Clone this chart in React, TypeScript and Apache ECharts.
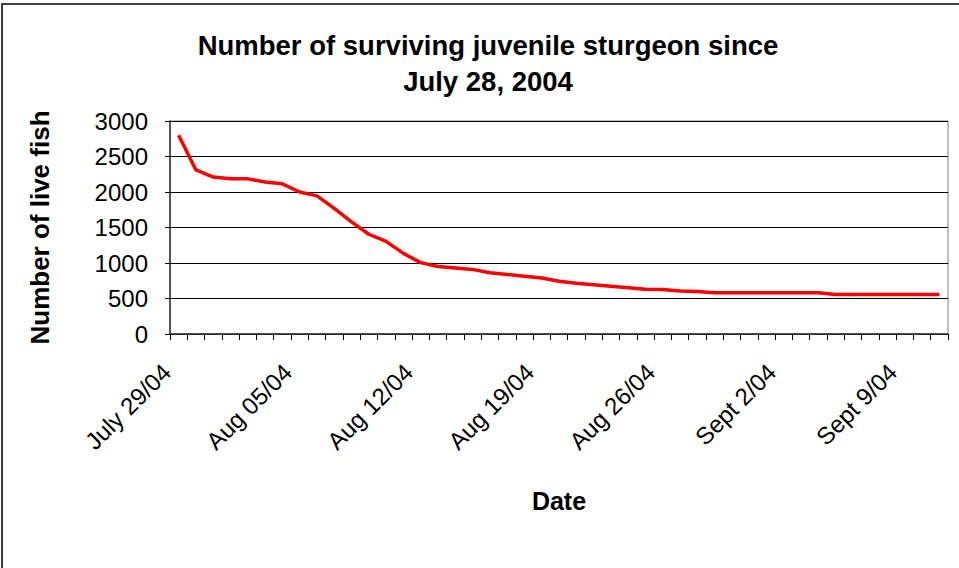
import React, { useEffect, useRef } from "react";
import * as echarts from "echarts";

const categories: string[] = [
  "July 29/04", "July 30/04", "July 31/04", "Aug 01/04", "Aug 02/04", "Aug 03/04", "Aug 04/04",
  "Aug 05/04", "Aug 06/04", "Aug 07/04", "Aug 08/04", "Aug 09/04", "Aug 10/04", "Aug 11/04",
  "Aug 12/04", "Aug 13/04", "Aug 14/04", "Aug 15/04", "Aug 16/04", "Aug 17/04", "Aug 18/04",
  "Aug 19/04", "Aug 20/04", "Aug 21/04", "Aug 22/04", "Aug 23/04", "Aug 24/04", "Aug 25/04",
  "Aug 26/04", "Aug 27/04", "Aug 28/04", "Aug 29/04", "Aug 30/04", "Aug 31/04", "Sept 1/04",
  "Sept 2/04", "Sept 3/04", "Sept 4/04", "Sept 5/04", "Sept 6/04", "Sept 7/04", "Sept 8/04",
  "Sept 9/04", "Sept 10/04", "Sept 11/04",
];

const liveFish: number[] = [
  2800, 2310, 2210, 2185, 2185, 2140, 2115, 2000, 1945, 1770,
  1580, 1405, 1305, 1135, 1005, 950, 930, 910, 862, 838,
  815, 790, 742, 716, 694, 671, 652, 630, 626, 604,
  600, 580, 580, 580, 580, 580, 580, 580, 555, 555,
  555, 555, 555, 555, 555,
];

const titleLines: string[] = ["Number of surviving juvenile sturgeon since", "July 28, 2004"];
const yAxisName = "Number of live fish";
const xAxisName = "Date";

const FONT = "'Liberation Sans', Arial, Helvetica, sans-serif";

export default function App() {
  const ref = useRef<HTMLDivElement>(null);
  useEffect(() => {
    if (!ref.current) return;
    const chart = echarts.init(ref.current, undefined, { renderer: "svg" });
    chart.setOption({
      animation: false,
      backgroundColor: "#ffffff",
      title: {
        text: titleLines.join("\n"),
        left: 483,
        top: 22,
        textAlign: "center",
        textStyle: {
          fontFamily: FONT,
          fontSize: 27.5,
          fontWeight: "bold",
          color: "#000",
          lineHeight: 36,
        },
      },
      graphic: [
        {
          type: "rect",
          shape: { x: 2, y: 4, width: 1000, height: 620 },
          style: { fill: "none", stroke: "#000", lineWidth: 1.5 },
          silent: true,
        },
      ],
      grid: {
        left: 170,
        top: 121,
        width: 778,
        height: 213,
        show: true,
        borderColor: "#808080",
        borderWidth: 1,
        backgroundColor: "#fff",
      },
      xAxis: {
        type: "category",
        data: categories,
        boundaryGap: true,
        name: xAxisName,
        nameLocation: "middle",
        nameGap: 154,
        nameTextStyle: { fontFamily: FONT, fontSize: 25, fontWeight: "bold", color: "#000" },
        axisLine: { lineStyle: { color: "#333", width: 1.5 } },
        axisTick: { show: true, interval: 0, length: 6, lineStyle: { color: "#000" } },
        axisLabel: {
          interval: 6,
          rotate: 45,
          margin: 22,
          padding: [0, 17, 0, 0],
          fontFamily: FONT,
          fontSize: 24,
          color: "#000",
        },
        splitLine: { show: false },
      },
      yAxis: {
        type: "value",
        min: 0,
        max: 3000,
        interval: 500,
        name: yAxisName,
        nameLocation: "middle",
        nameRotate: 90,
        nameGap: 117,
        nameTextStyle: {
          fontFamily: FONT,
          fontSize: 26,
          fontWeight: "bold",
          color: "#000",
        },
        axisLine: { show: true, lineStyle: { color: "#333", width: 1.5 } },
        axisTick: { show: true, length: 5, lineStyle: { color: "#000" } },
        axisLabel: {
          margin: 22,
          fontFamily: FONT,
          fontSize: 24,
          color: "#000",
          formatter: (v: number) => String(v),
        },
        splitLine: { show: true, lineStyle: { color: "#000", width: 1 } },
      },
      series: [
        {
          type: "line",
          data: liveFish,
          showSymbol: false,
          symbol: "none",
          lineStyle: { color: "#ff0000", width: 3.5 },
          itemStyle: { color: "#ff0000" },
        },
      ],
    });
    return () => chart.dispose();
  }, []);
  return (
    <div
      ref={ref}
      style={{ position: "absolute", left: 0, top: 0, width: 959, height: 568 }}
    />
  );
}
